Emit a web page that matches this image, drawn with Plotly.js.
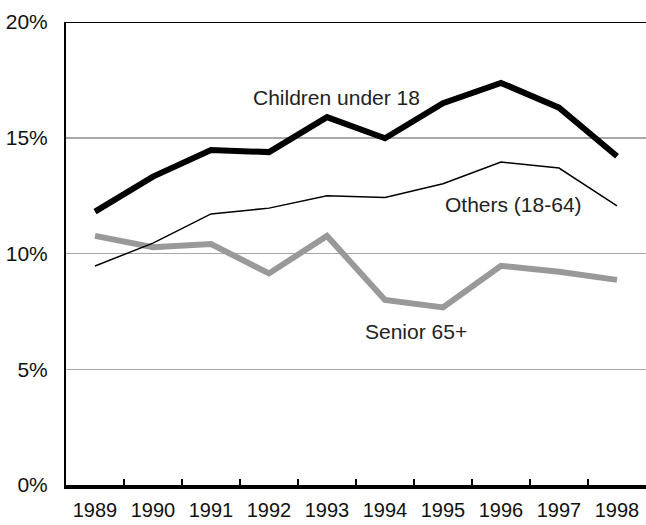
<!DOCTYPE html>
<html>
<head>
<meta charset="utf-8">
<script src="https://cdn.plot.ly/plotly-3.0.1.min.js"></script>
<style>html,body{margin:0;padding:0;background:#fff;}#chart{width:646px;height:525px;}</style>
</head>
<body>
<div id="chart"></div>
<script>
const years = ["1989","1990","1991","1992","1993","1994","1995","1996","1997","1998"];
const children = [11.81, 13.32, 14.47, 14.38, 15.89, 14.98, 16.49, 17.37, 16.30, 14.20];
const others = [9.46, 10.45, 11.71, 11.96, 12.49, 12.42, 13.01, 13.95, 13.69, 12.06];
const seniors = [10.76, 10.27, 10.41, 9.14, 10.76, 7.99, 7.67, 9.47, 9.21, 8.86];
const yTicks = [0, 5, 10, 15, 20];
const yTickText = ["0%", "5%", "10%", "15%", "20%"];
const seriesNames = ["Children under 18", "Others (18-64)", "Senior 65+"];

const FONT = "Liberation Sans, Arial, Helvetica, sans-serif";

const traces = [
  {x: years, y: seniors, type: "scatter", mode: "lines", name: seriesNames[2],
   line: {color: "#999999", width: 6, shape: "linear"}},
  {x: years, y: others, type: "scatter", mode: "lines", name: seriesNames[1],
   line: {color: "#000000", width: 1.5}},
  {x: years, y: children, type: "scatter", mode: "lines", name: seriesNames[0],
   line: {color: "#000000", width: 6}}
];

const layout = {
  width: 646, height: 525,
  margin: {l: 66, r: 0, t: 22, b: 40, pad: 0},
  paper_bgcolor: "#ffffff", plot_bgcolor: "#ffffff",
  showlegend: false,
  font: {family: FONT, size: 21, color: "#111"},
  xaxis: {
    type: "category", range: [-0.5, 9.5], fixedrange: true,
    showgrid: false, zeroline: false,
    showline: true, linecolor: "#000", linewidth: 3.5,
    ticks: "inside", tickson: "boundaries", ticklen: 6, tickwidth: 2, tickcolor: "#000",
    ticklabelstandoff: 4,
    tickfont: {family: FONT, size: 20, color: "#111"}
  },
  yaxis: {
    range: [0, 20], fixedrange: true,
    tickvals: yTicks, ticktext: yTickText,
    showgrid: true, gridcolor: "#a8a8a8", gridwidth: 1.5,
    zeroline: false,
    showline: true, linecolor: "#000", linewidth: 2,
    ticks: "", ticklabelstandoff: 12,
    tickfont: {family: FONT, size: 21, color: "#111"}
  },
  shapes: [
    {type: "line", xref: "paper", yref: "y", x0: 0, x1: 1, y0: 20, y1: 20,
     line: {color: "#000", width: 2}}
  ],
  annotations: [
    {x: 4.17, y: 16.76, xref: "x", yref: "y", text: seriesNames[0], showarrow: false,
     font: {family: FONT, size: 21, color: "#222"}},
    {x: 7.21, y: 12.10, xref: "x", yref: "y", text: seriesNames[1], showarrow: false,
     font: {family: FONT, size: 21, color: "#222"}},
    {x: 5.54, y: 6.61, xref: "x", yref: "y", text: seriesNames[2], showarrow: false,
     font: {family: FONT, size: 21, color: "#222"}}
  ]
};

Plotly.newPlot("chart", traces, layout, {displayModeBar: false, staticPlot: true});
</script>
</body>
</html>
